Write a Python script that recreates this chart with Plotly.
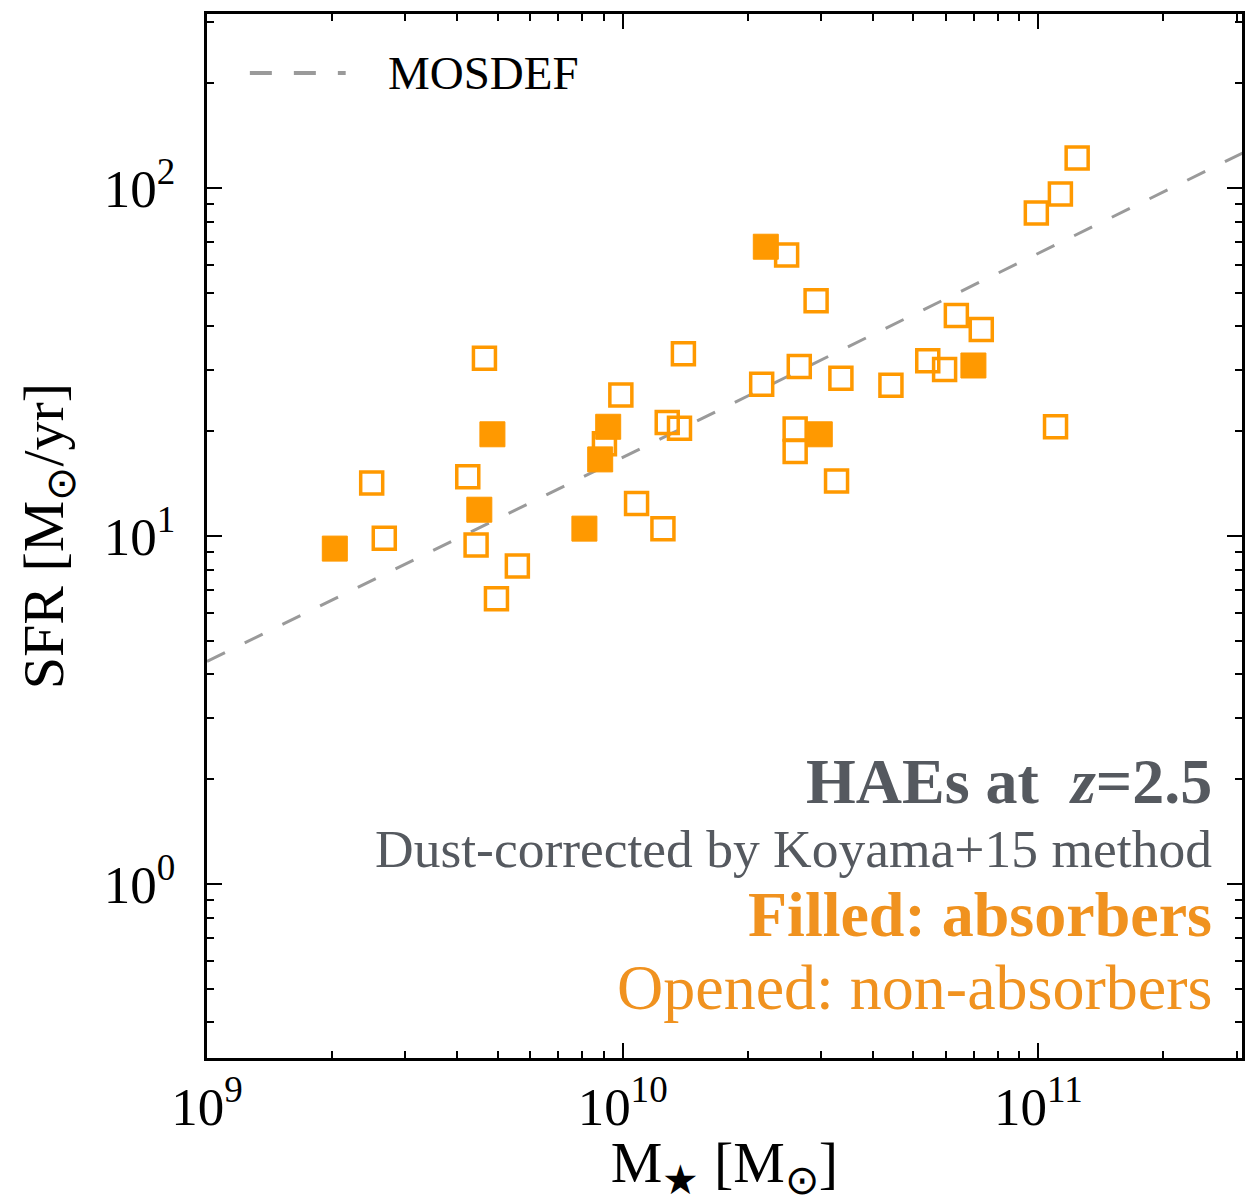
import plotly.graph_objects as go

# Stellar mass [Msun] and dust-corrected SFR [Msun/yr] of HAEs at z=2.5
absorber_mass = [2.03e9, 4.52e9, 4.86e9, 8.09e9, 8.83e9, 9.23e9, 2.21e10, 2.98e10, 6.98e10]
absorber_sfr = [9.2, 11.9, 19.6, 10.5, 16.6, 20.6, 67.8, 19.6, 30.9]

nonabsorber_mass = [2.49e9, 2.67e9, 4.24e9, 4.65e9, 4.44e9, 5.58e9, 4.97e9, 9.04e9,
                    9.9e9, 1.08e10, 1.25e10, 1.28e10, 1.37e10, 1.40e10, 2.16e10,
                    2.48e10, 2.92e10, 2.66e10, 2.60e10, 2.60e10, 3.35e10, 3.27e10,
                    4.42e10, 5.42e10, 5.95e10, 6.35e10, 7.29e10, 9.89e10, 1.13e11,
                    1.24e11, 1.10e11]
nonabsorber_sfr = [14.2, 9.86, 14.8, 32.4, 9.42, 8.2, 6.6, 18.4,
                   25.4, 12.4, 10.5, 21.2, 20.4, 33.4, 27.3,
                   64.2, 47.4, 30.7, 20.3, 17.5, 28.4, 14.4,
                   27.1, 31.9, 30.1, 43.0, 39.2, 84.8, 96.1,
                   121.9, 20.6]

# MOSDEF main-sequence relation (end points)
mosdef_mass = [1e9, 3.1e11]
mosdef_sfr = [4.36, 126.0]

x_tickvals = [1e9, 1e10, 1e11]
x_ticktext = ["10<sup>9</sup>", "10<sup>10</sup>", "10<sup>11</sup>"]
y_tickvals = [1, 10, 100]
y_ticktext = ["10<sup>0</sup>", "10<sup>1</sup>", "10<sup>2</sup>"]

ORANGE = "#FF9900"
TEXT_ORANGE = "#F0921F"
SLATE = "#55595F"
SERIF = "Liberation Serif, Times New Roman, serif"

fig = go.Figure()

fig.add_trace(go.Scatter(
    x=mosdef_mass, y=mosdef_sfr, mode="lines",
    line=dict(color="#9A9A9A", width=3, dash="20px,22px"),
    showlegend=False, hoverinfo="skip"))

fig.add_trace(go.Scatter(
    x=nonabsorber_mass, y=nonabsorber_sfr, mode="markers",
    marker=dict(symbol="square-open", size=22, color=ORANGE,
                line=dict(color=ORANGE, width=3.5)),
    showlegend=False))

fig.add_trace(go.Scatter(
    x=absorber_mass, y=absorber_sfr, mode="markers",
    marker=dict(symbol="square", size=25, color=ORANGE,
                line=dict(color=ORANGE, width=1)),
    showlegend=False))

axis_common = dict(
    type="log", showgrid=False, zeroline=False,
    showline=True, linecolor="black", linewidth=3, mirror="allticks",
    ticks="inside", ticklen=15, tickwidth=2, tickcolor="black",
    minor=dict(ticks="inside", ticklen=7, tickwidth=1.5, tickcolor="black",
               dtick="D1", showgrid=False),
    tickfont=dict(family=SERIF, size=53, color="black"),
)

fig.update_xaxes(
    **axis_common, range=[9, 11.49],
    tickvals=x_tickvals, ticktext=x_ticktext,
    title=dict(text="M<sub>★</sub> [M<sub>⊙</sub>]",
               font=dict(family=SERIF, size=58, color="black"), standoff=14))
fig.update_yaxes(
    **axis_common, range=[-0.5, 2.5],
    tickvals=y_tickvals, ticktext=y_ticktext, ticklabelstandoff=18,
    title=dict(text="SFR [M<sub>⊙</sub>/yr]",
               font=dict(family=SERIF, size=58, color="black"), standoff=22))

# legend key for the MOSDEF relation
fig.add_shape(type="line", xref="paper", yref="paper",
              x0=0.0414, x1=0.134, y0=0.9435, y1=0.9435,
              line=dict(color="#9A9A9A", width=4, dash="22px,22px"))
fig.add_annotation(xref="paper", yref="paper", x=0.1734, y=0.9435,
                   xanchor="left", yanchor="middle", showarrow=False,
                   text="MOSDEF", font=dict(family=SERIF, size=47, color="black"))

notes = [
    ("<b>HAEs at  <i>z</i>=2.5</b>", 0.2644, 64, SLATE),
    ("Dust-corrected by Koyama+15 method", 0.2002, 53.5, SLATE),
    ("<b>Filled: absorbers</b>", 0.137, 64, TEXT_ORANGE),
    ("Opened: non-absorbers", 0.068, 64, TEXT_ORANGE),
]
for text, y, size, color in notes:
    fig.add_annotation(xref="paper", yref="paper", x=0.973, y=y,
                       xanchor="right", yanchor="middle", showarrow=False,
                       text=text, font=dict(family=SERIF, size=size, color=color))

fig.update_layout(
    width=1254, height=1203,
    margin=dict(l=207, r=9, t=14, b=145),
    paper_bgcolor="white", plot_bgcolor="white",
)

fig.write_html("out.html")
